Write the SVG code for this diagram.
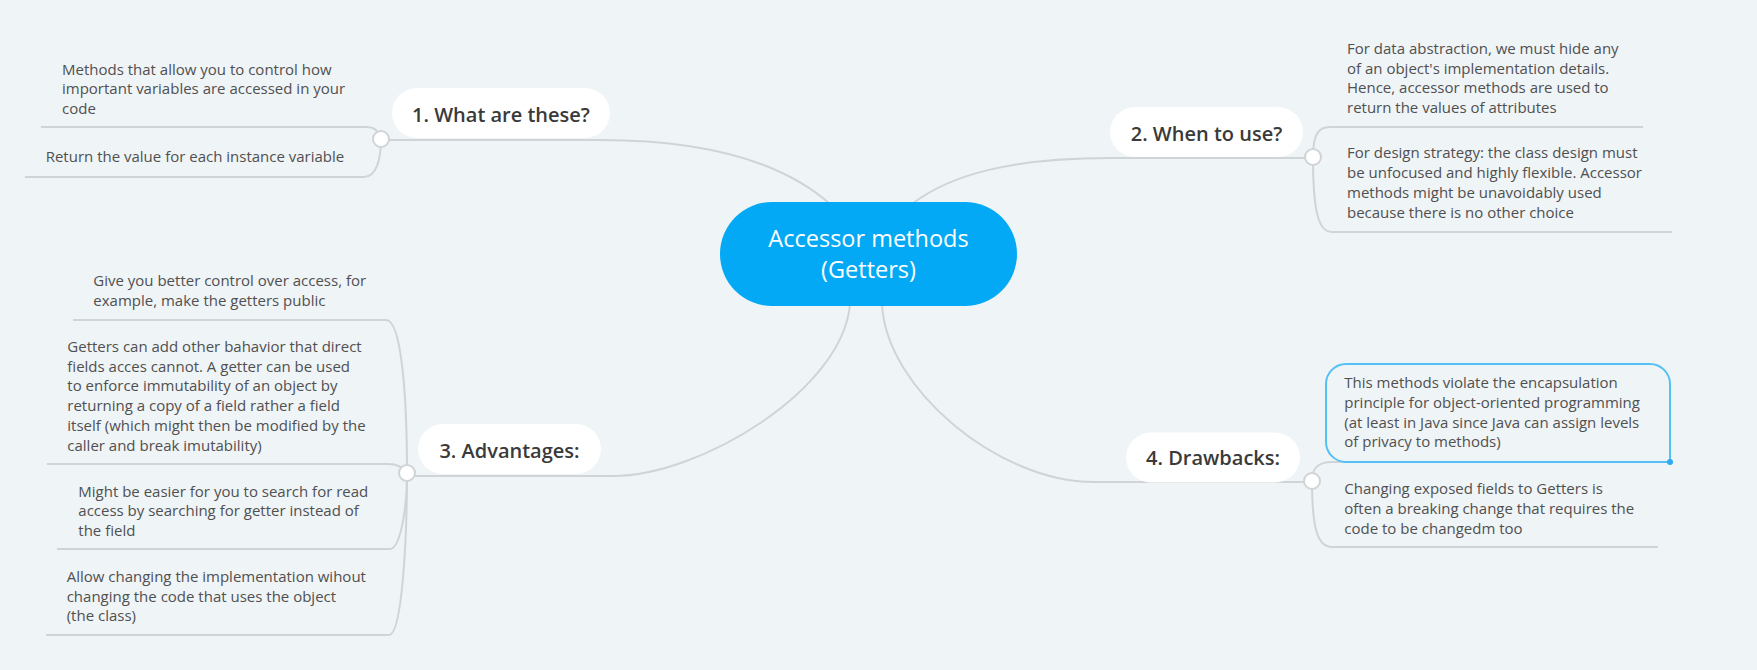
<svg xmlns="http://www.w3.org/2000/svg" width="1757" height="670" viewBox="0 0 1757 670">
<style>
.bg{fill:#eff4f7}
.ln{fill:none;stroke:#d0d4d7;stroke-width:2}
.dot{fill:#fff;stroke:#d0d4d7;stroke-width:2}
.pill{fill:#fff}
.pt{font-family:"Open Sans","Noto Sans",sans-serif;font-weight:600;font-size:20px;fill:#3a3a3a;text-anchor:middle}
.lt{font-family:"Open Sans","Noto Sans",sans-serif;font-size:15px;fill:#505050}
.ct{font-family:"Open Sans","Noto Sans",sans-serif;font-size:23.5px;fill:#fff;text-anchor:middle}
</style>
<rect class="bg" x="0" y="0" width="1757" height="670"/>
<g id="connectors">
<path class="ln" d="M381,140 H600 C700,140 780,160 830,204"/>
<path class="ln" d="M912,204 C950,175 1010,158 1110,158 H1313"/>
<path class="ln" d="M407,476 H613 C700,476 843,390 850,304"/>
<path class="ln" d="M882,304 C886,390 1000,482 1093,482 H1312"/>
<path class="ln" d="M41,127 H366 C374,127 378,130 381,139"/>
<path class="ln" d="M381,139 C381,160 376,177 364,177 H25"/>
<path class="ln" d="M1313,157 C1313,135 1318,127 1330,127 H1643"/>
<path class="ln" d="M1313,157 C1313,210 1318,232 1332,232 H1672"/>
<path class="ln" d="M73,320 H386 C402,320 407,400 407,473"/>
<path class="ln" d="M47,464 H388 C398,464 403,467 407,473"/>
<path class="ln" d="M57,549 H390 C400,549 407,510 407,473"/>
<path class="ln" d="M46,635 H389 C402,635 407,540 407,473"/>
<path class="ln" d="M1312,481 C1312,468 1318,462 1332,462 H1670"/>
<path class="ln" d="M1312,481 C1312,530 1318,547 1332,547 H1658"/>
</g>
<g id="root">
<rect x="720" y="202" width="297" height="104" rx="52" fill="#03a9f4"/>
<text class="ct" x="868.5" y="246.7">Accessor methods</text>
<text class="ct" x="868.5" y="278.3">(Getters)</text>
</g>
<g id="node1">
<rect class="pill" x="392" y="88" width="218" height="50" rx="25"/>
<text class="pt" x="501" y="121.7">1. What are these?</text>
<circle class="dot" cx="381" cy="139" r="8"/>
</g>
<g id="node1-leaf1">
<text class="lt"><tspan x="62" y="75">Methods that allow you to control how</tspan><tspan x="62" y="94.3">important variables are accessed in your</tspan><tspan x="62" y="113.6">code</tspan></text>
</g>
<g id="node1-leaf2">
<text class="lt" x="45.7" y="162.3">Return the value for each instance variable</text>
</g>
<g id="node2">
<rect class="pill" x="1110" y="107" width="193" height="50" rx="25"/>
<text class="pt" x="1206.5" y="140.5">2. When to use?</text>
<circle class="dot" cx="1313" cy="157" r="8"/>
</g>
<g id="node2-leaf1">
<text class="lt"><tspan x="1347" y="54">For data abstraction, we must hide any</tspan><tspan x="1347" y="73.5">of an object's implementation details.</tspan><tspan x="1347" y="93">Hence, accessor methods are used to</tspan><tspan x="1347" y="112.5">return the values of attributes</tspan></text>
</g>
<g id="node2-leaf2">
<text class="lt"><tspan x="1347" y="158.3">For design strategy: the class design must</tspan><tspan x="1347" y="178">be unfocused and highly flexible. Accessor</tspan><tspan x="1347" y="197.8">methods might be unavoidably used</tspan><tspan x="1347" y="217.5">because there is no other choice</tspan></text>
</g>
<g id="node3">
<rect class="pill" x="418" y="424" width="183" height="50" rx="25"/>
<text class="pt" x="509.5" y="457.7">3. Advantages:</text>
<circle class="dot" cx="407" cy="473" r="8"/>
</g>
<g id="node3-leaf1">
<text class="lt"><tspan x="93.3" y="286">Give you better control over access, for</tspan><tspan x="93.3" y="306">example, make the getters public</tspan></text>
</g>
<g id="node3-leaf2">
<text class="lt"><tspan x="67.3" y="351.7">Getters can add other bahavior that direct</tspan><tspan x="67.3" y="371.5">fields acces cannot. A getter can be used</tspan><tspan x="67.3" y="391.3">to enforce immutability of an object by</tspan><tspan x="67.3" y="411">returning a copy of a field rather a field</tspan><tspan x="67.3" y="430.8">itself (which might then be modified by the</tspan><tspan x="67.3" y="450.6">caller and break imutability)</tspan></text>
</g>
<g id="node3-leaf3">
<text class="lt"><tspan x="78.3" y="496.7">Might be easier for you to search for read</tspan><tspan x="78.3" y="516.4">access by searching for getter instead of</tspan><tspan x="78.3" y="536">the field</tspan></text>
</g>
<g id="node3-leaf4">
<text class="lt"><tspan x="66.7" y="581.7">Allow changing the implementation wihout</tspan><tspan x="66.7" y="601.5">changing the code that uses the object</tspan><tspan x="66.7" y="621.3">(the class)</tspan></text>
</g>
<g id="node4">
<rect class="pill" x="1126" y="432.5" width="174" height="50" rx="25"/>
<text class="pt" x="1213" y="465">4. Drawbacks:</text>
<circle class="dot" cx="1312" cy="481" r="8"/>
</g>
<g id="node4-leaf1">
<path d="M1670,462 H1346 A20,20 0 0 1 1326,442 V384 A20,20 0 0 1 1346,364 H1650 A20,20 0 0 1 1670,384 Z" fill="none" stroke="#55c0f5" stroke-width="2"/>
<circle cx="1670" cy="462" r="3" fill="#2fa9f0"/>
<text class="lt"><tspan x="1344.3" y="388.3">This methods violate the encapsulation</tspan><tspan x="1344.3" y="408">principle for object-oriented programming</tspan><tspan x="1344.3" y="427.7">(at least in Java since Java can assign levels</tspan><tspan x="1344.3" y="447.3">of privacy to methods)</tspan></text>
</g>
<g id="node4-leaf2">
<text class="lt"><tspan x="1344.3" y="494.3">Changing exposed fields to Getters is</tspan><tspan x="1344.3" y="514.2">often a breaking change that requires the</tspan><tspan x="1344.3" y="534">code to be changedm too</tspan></text>
</g>
</svg>
